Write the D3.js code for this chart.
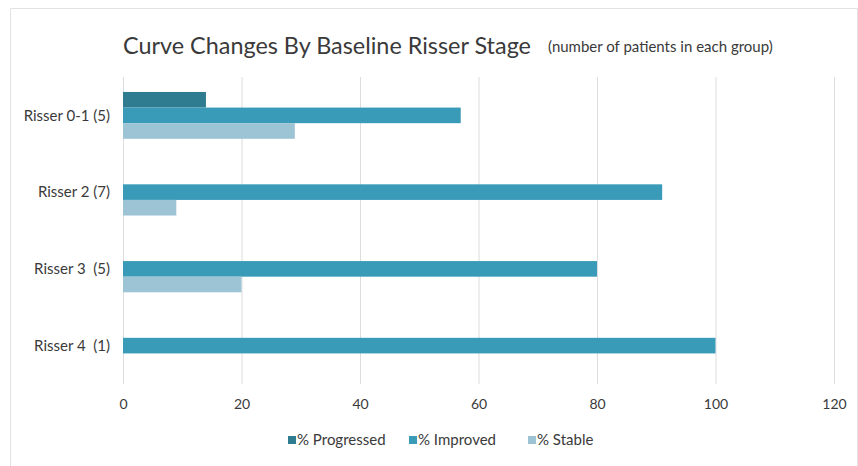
<!DOCTYPE html>
<html>
<head>
<meta charset="utf-8">
<script src="https://cdn.jsdelivr.net/npm/d3@7"></script>
<style>
  body { margin: 0; background: #fff; }
  svg text { font-family: Lato, "Open Sans", sans-serif; fill: #3a3a3a; }
</style>
</head>
<body>
<div id="chart"></div>
<script>
// data
var stages = ['Risser 0-1 (5)', 'Risser 2 (7)', 'Risser 3  (5)', 'Risser 4  (1)'];
var seriesNames = ['% Progressed', '% Improved', '% Stable'];
var progressed = [14, 0, 0, 0];
var improved = [57, 91, 80, 100];
var stable = [29, 9, 20, 0];
var xTicks = [0, 20, 40, 60, 80, 100, 120];
var colors = ['#2f7b8f', '#3a9bb8', '#9cc4d4'];

var svgWidth = 858, svgHeight = 466;
var svg = d3.select('#chart').append('svg').attr('width', svgWidth).attr('height', svgHeight);

// outer frame (top + left + right)
svg.append('path')
  .attr('d', 'M10.5,466 V8.5 H857.5 V466')
  .attr('fill', 'none').attr('stroke', '#e2e2e2');

var x = d3.scaleLinear().domain([0, 120]).range([123, 834]);
var y = d3.scaleBand().domain(stages).range([77, 384]).paddingInner(0.39).paddingOuter(0.195);
var ySub = d3.scaleBand().domain(seriesNames).range([0, y.bandwidth()]);

// gridlines
svg.append('g').selectAll('line')
  .data(xTicks)
  .enter().append('line')
  .attr('x1', function(d) { return x(d) + 0.5; })
  .attr('x2', function(d) { return x(d) + 0.5; })
  .attr('y1', 77).attr('y2', 384)
  .attr('stroke', '#dcdcdc');

// x tick labels
var xAxis = svg.append('g').attr('transform', 'translate(0,384)')
  .call(d3.axisBottom(x).tickValues(xTicks).tickSize(0).tickPadding(15));
xAxis.select('.domain').remove();
xAxis.selectAll('text').style('font-size', '14px').attr('fill', '#3a3a3a');

// y labels, centred on the middle (Improved) bar
var yAxis = svg.append('g').attr('transform', 'translate(123,0)')
  .call(d3.axisLeft(y).tickSize(0).tickPadding(13));
yAxis.select('.domain').remove();
yAxis.selectAll('.tick').attr('transform', function(d) {
  return 'translate(0,' + (y(d) + ySub('% Improved') + ySub.bandwidth() / 2) + ')';
});
yAxis.selectAll('text').style('font-size', '15px').style('white-space', 'pre')
  .attr('fill', '#3a3a3a').attr('y', 0).attr('dy', '0.35em');

// bars
var allSeries = [progressed, improved, stable];
allSeries.forEach(function(vals, si) {
  svg.append('g').selectAll('rect')
    .data(vals)
    .enter().append('rect')
    .attr('x', x(0))
    .attr('y', function(d, i) { return y(stages[i]) + ySub(seriesNames[si]); })
    .attr('height', ySub.bandwidth())
    .attr('width', function(d) { return x(d) - x(0); })
    .attr('fill', colors[si]);
});

// title
svg.append('text').attr('x', 123).attr('y', 54)
  .style('font-size', '23.4px')
  .text('Curve Changes By Baseline Risser Stage');
svg.append('text').attr('x', 548).attr('y', 52)
  .style('font-size', '15px')
  .text('(number of patients in each group)');

// legend
var legendX = [288, 409, 528];
var legend = svg.append('g').selectAll('g')
  .data(seriesNames)
  .enter().append('g')
  .attr('transform', function(d, i) { return 'translate(' + legendX[i] + ',440)'; });
legend.append('rect').attr('x', 0).attr('y', -4).attr('width', 8).attr('height', 8)
  .attr('fill', function(d, i) { return colors[i]; });
legend.append('text').attr('x', 9).attr('dy', '0.35em').style('font-size', '15px')
  .text(function(d) { return d; });
</script>
</body>
</html>
